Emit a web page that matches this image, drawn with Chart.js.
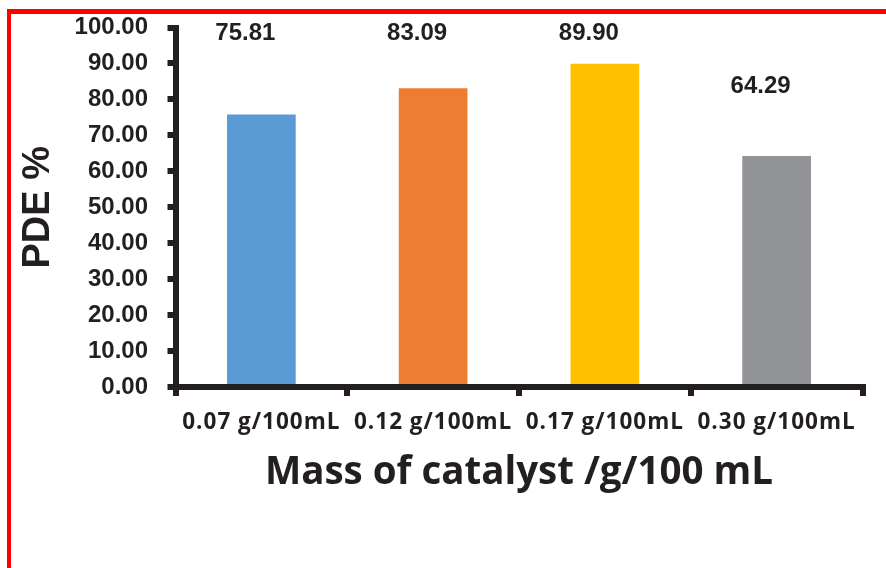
<!DOCTYPE html>
<html>
<head>
<meta charset="utf-8">
<title>PDE % by mass of catalyst</title>
<script src="https://cdn.jsdelivr.net/npm/chart.js@4/dist/chart.umd.min.js"></script>
<style>
  html, body { margin: 0; padding: 0; background: #ffffff; }
  #wrap { position: relative; width: 886px; height: 568px; overflow: hidden; }
  #frame { position: absolute; left: 7px; top: 9px; right: -10px; bottom: -10px;
           border-top: 5px solid #ff0000; border-left: 4px solid #ff0000; pointer-events: none; }
  canvas { position: absolute; left: 0; top: 0; }
</style>
</head>
<body>
<div id="wrap">
  <canvas id="chart" width="886" height="568"></canvas>
  <div id="frame"></div>
</div>
<script>
// Catalyst dose categories and photodegradation efficiency (%)
const categories = ['0.07 g/100mL', '0.12 g/100mL', '0.17 g/100mL', '0.30 g/100mL'];
const pdeValues = [75.81, 83.09, 89.90, 64.29];
const barColors = ['#5B9BD5', '#ED7D31', '#FFC000', '#939497'];
const yTicks = [0, 10, 20, 30, 40, 50, 60, 70, 80, 90, 100];

const INK = '#231F20';

// Value labels: placed about 20 units above a bar, or on the top row
// of the plot when that would run past the upper part of the axis
const valueLabels = {
  id: 'valueLabels',
  afterDatasetsDraw(chart) {
    const { ctx } = chart;
    const yScale = chart.scales.y;
    const meta = chart.getDatasetMeta(0);
    ctx.save();
    ctx.font = 'bold 24px "Liberation Sans", Arial, sans-serif';
    ctx.fillStyle = INK;
    ctx.textAlign = 'center';
    ctx.textBaseline = 'middle';
    meta.data.forEach((bar, i) => {
      const v = pdeValues[i];
      const above = v + 19.2;
      const y = yScale.getPixelForValue(above > 90 ? 98.5 : above);
      ctx.fillText(v.toFixed(2), bar.x - 16, y);
    });
    ctx.restore();
  }
};

// Slightly letter-spaced category labels on the x axis
const spacedCategoryLabels = {
  id: 'spacedCategoryLabels',
  beforeDraw(chart) {
    const s = chart.scales.x;
    if (s._spacedLabels) return;
    const orig = s.drawLabels;
    s.drawLabels = function (area) {
      const c = this.ctx;
      c.save();
      c.letterSpacing = '1px';
      orig.call(this, area);
      c.restore();
    };
    s._spacedLabels = true;
  }
};

new Chart(document.getElementById('chart'), {
  type: 'bar',
  data: {
    labels: categories,
    datasets: [{
      data: pdeValues,
      backgroundColor: barColors,
      borderWidth: 0,
      barPercentage: 0.4,
      categoryPercentage: 1.0
    }]
  },
  options: {
    responsive: false,
    animation: false,
    events: [],
    layout: { padding: { top: 27.5, right: 23.5, left: 0, bottom: 0 } },
    plugins: { legend: { display: false }, tooltip: { enabled: false } },
    scales: {
      x: {
        afterFit(scale) { scale.height = 181; scale.paddingLeft = 0; scale.paddingRight = 0; },
        grid: { display: true, drawOnChartArea: false, drawTicks: true, tickLength: 9,
                color: INK, lineWidth: 6, offset: true },
        border: { display: true, color: INK, width: 6 },
        ticks: { color: INK, padding: 13.5, maxRotation: 0, autoSkip: false,
                 font: { family: '"Open Sans", sans-serif', size: 22.5, weight: 'bold' } },
        title: { display: true, text: 'Mass of catalyst /g/100 mL', color: INK,
                 padding: { top: 0, bottom: 72 },
                 font: { family: '"Open Sans", sans-serif', size: 38.5, weight: 'bold' } }
      },
      y: {
        min: 0, max: 100,
        afterFit(scale) { scale.width = 175.5; scale.paddingTop = 0; scale.paddingBottom = 0; },
        afterBuildTicks(scale) { scale.ticks = yTicks.map(v => ({ value: v })); },
        grid: { display: true, drawOnChartArea: false, drawTicks: true, tickLength: 8,
                color: INK, lineWidth: 6 },
        border: { display: true, color: INK, width: 6 },
        ticks: { color: INK, padding: 19.5,
                 callback: v => Number(v).toFixed(2),
                 font: { family: '"Liberation Sans", Arial, sans-serif', size: 24, weight: 'bold' } },
        title: { display: true, text: 'PDE %', color: INK,
                 padding: { top: 16, bottom: 0 },
                 font: { family: '"Liberation Sans", Arial, sans-serif', size: 38, weight: 'bold' } }
      }
    }
  },
  plugins: [valueLabels, spacedCategoryLabels]
});
</script>
</body>
</html>
